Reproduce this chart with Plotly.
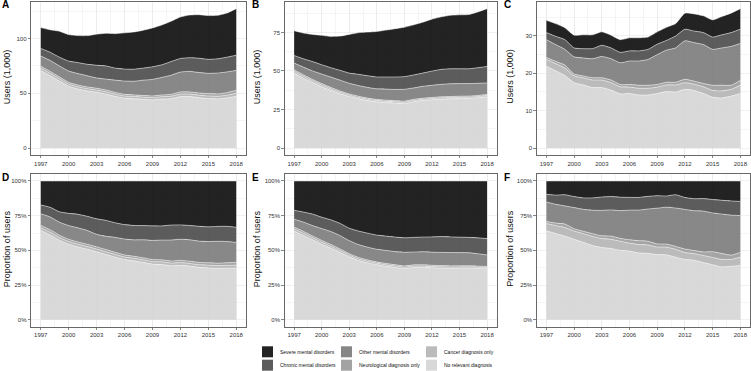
import plotly.graph_objects as go

years = list(range(1997, 2019))

categories = ["No relevant diagnosis", "Cancer diagnosis only", "Neurological diagnosis only",
              "Other mental disorders", "Chronic mental disorders", "Severe mental disorders"]

# Panel A (users, 1,000) - layers from bottom to top
a_norel = [70.8, 66.0, 61.2, 56.4, 53.9, 52.2, 51.0, 49.3, 47.2, 45.6, 45.0, 44.5, 44.0, 44.8, 45.1, 47.0, 47.0, 46.0, 45.2, 44.9, 45.8, 47.3]
a_cancer = [2.2, 2.2, 2.1, 2.0, 2.0, 2.0, 2.0, 2.0, 2.0, 2.0, 2.0, 2.0, 2.0, 2.1, 2.2, 2.3, 2.3, 2.3, 2.4, 2.4, 2.5, 2.8]
a_neuro = [1.8, 1.8, 1.7, 1.6, 1.6, 1.6, 1.6, 1.7, 1.6, 1.5, 1.5, 1.5, 1.6, 1.6, 1.7, 1.9, 1.9, 2.0, 2.1, 2.1, 2.3, 2.6]
a_other = [9.2, 10.0, 10.0, 10.3, 10.5, 10.2, 9.4, 10.0, 11.2, 12.1, 12.5, 14.0, 15.1, 16.0, 17.5, 18.2, 18.8, 18.7, 18.5, 19.1, 18.9, 18.2]
a_chronic = [7.0, 7.5, 8.0, 9.1, 10.0, 10.5, 11.6, 12.0, 11.0, 10.9, 11.0, 11.0, 11.5, 11.5, 12.5, 12.4, 12.5, 13.0, 12.8, 13.0, 13.5, 13.9]
a_severe = [19.0, 20.5, 23.7, 24.2, 24.7, 26.2, 28.4, 29.8, 31.5, 33.1, 34.0, 34.6, 35.5, 36.4, 36.8, 37.9, 39.0, 39.8, 40.0, 39.7, 40.3, 42.5]

# Panel B
b_norel = [48.6, 45.3, 42.5, 39.8, 37.4, 35.2, 33.4, 31.9, 30.8, 30.0, 29.5, 29.2, 28.9, 30.1, 30.8, 31.3, 31.7, 31.9, 32.1, 32.2, 32.6, 33.2]
b_cancer = [1.2, 1.2, 1.1, 1.1, 1.0, 1.0, 0.9, 0.9, 0.9, 0.8, 0.8, 0.8, 0.8, 0.8, 0.8, 0.8, 0.8, 0.8, 0.8, 0.8, 0.8, 0.8]
b_neuro = [1.0, 1.0, 0.9, 0.9, 0.9, 0.8, 0.8, 0.8, 0.7, 0.7, 0.7, 0.7, 0.7, 0.7, 0.7, 0.7, 0.7, 0.7, 0.7, 0.7, 0.7, 0.7]
b_other = [4.3, 5.0, 5.5, 6.2, 6.7, 7.0, 6.9, 6.9, 6.9, 6.9, 7.2, 7.3, 7.7, 7.4, 7.7, 7.9, 8.1, 8.3, 8.2, 8.1, 7.9, 7.5]
b_chronic = [4.9, 5.4, 6.1, 6.0, 6.1, 6.4, 6.6, 7.3, 7.6, 7.7, 7.9, 8.1, 8.2, 8.4, 8.6, 9.2, 9.7, 9.7, 9.6, 9.6, 10.1, 10.7]
b_severe = [16.1, 16.7, 17.6, 19.1, 20.3, 22.2, 25.1, 27.0, 28.3, 29.5, 30.4, 31.3, 32.1, 32.5, 33.0, 33.7, 34.1, 34.7, 35.0, 35.2, 36.2, 37.5]

# Panel C
c_norel = [21.9, 20.7, 19.4, 17.5, 16.9, 16.2, 16.2, 15.5, 14.5, 14.6, 14.2, 14.2, 14.6, 15.1, 15.0, 15.7, 15.4, 14.6, 13.6, 13.4, 13.9, 14.6]
c_cancer = [1.8, 1.9, 2.0, 1.8, 1.9, 2.0, 2.0, 2.0, 1.9, 1.7, 1.8, 1.8, 1.7, 1.8, 1.9, 1.8, 1.7, 1.8, 1.8, 1.9, 1.8, 2.2]
c_neuro = [0.5, 0.6, 0.8, 0.5, 0.5, 0.6, 0.6, 0.7, 0.6, 0.7, 0.8, 0.8, 0.7, 0.7, 0.7, 0.9, 0.8, 0.9, 1.4, 1.5, 1.1, 1.3]
c_other = [4.8, 4.5, 4.2, 4.6, 4.8, 5.1, 5.7, 5.7, 5.8, 6.3, 6.5, 6.9, 8.0, 8.6, 9.2, 10.3, 10.3, 10.4, 9.6, 10.0, 10.4, 9.9]
c_chronic = [1.9, 2.2, 2.6, 2.4, 2.5, 2.7, 3.0, 2.9, 2.8, 2.7, 2.7, 2.7, 2.8, 2.6, 3.2, 3.1, 3.1, 3.2, 3.3, 3.5, 3.7, 3.8]
c_severe = [3.3, 3.4, 3.2, 3.4, 3.7, 3.7, 3.6, 3.4, 3.4, 3.5, 3.5, 3.3, 3.3, 3.5, 3.3, 4.3, 4.6, 4.5, 4.6, 4.9, 5.2, 5.5]

panel_data = {
    "A": [a_norel, a_cancer, a_neuro, a_other, a_chronic, a_severe],
    "B": [b_norel, b_cancer, b_neuro, b_other, b_chronic, b_severe],
    "C": [c_norel, c_cancer, c_neuro, c_other, c_chronic, c_severe],
}

x_ticks = [1997, 2000, 2003, 2006, 2009, 2012, 2015, 2018]

# colours: fill with slight transparency so grid shows through
fill_rgba = ["rgba(213,213,213,0.9)", "rgba(180,180,180,0.9)", "rgba(155,155,155,0.9)",
             "rgba(123,123,123,0.9)", "rgba(74,74,74,0.9)", "rgba(11,11,11,0.9)"]
legend_cols = ["#d8d8d8", "#bbbbbb", "#a3a3a3", "#868686", "#5c5c5c", "#232323"]

W, H = 751, 371
def px(x): return x / W
def py(y): return (H - y) / H

col_dom = [(31, 246), (284.5, 496.7), (536.7, 750)]
row_dom = [(1.7, 155), (174, 326.7)]

fig = go.Figure()
panels = [("A", 0, 0, "A"), ("B", 0, 1, "B"), ("C", 0, 2, "C"),
          ("D", 1, 0, "A"), ("E", 1, 1, "B"), ("F", 1, 2, "C")]

FONT = "Liberation Sans, Arial, sans-serif"
axis_font = dict(family=FONT, size=6, color="#333333")
grid_col = "#e6e6e6"

annotations = []
for idx, (label, r, c, src) in enumerate(panels):
    n = idx + 1
    xa = "x" if n == 1 else f"x{n}"
    ya = "y" if n == 1 else f"y{n}"
    layers = panel_data[src]
    for k, vals in enumerate(layers):
        tr = dict(x=years, y=vals, mode="lines", stackgroup=f"g{n}",
                  line=dict(color="white", width=0.5, shape="spline", smoothing=0.5),
                  fillcolor=fill_rgba[k], showlegend=False, hoverinfo="skip",
                  name=categories[k], xaxis=xa, yaxis=ya)
        if r == 1 and k == 0:
            tr["groupnorm"] = "fraction"
        fig.add_trace(go.Scatter(**tr))

    xd = col_dom[c]; yd = row_dom[r]
    xkey = "xaxis" if n == 1 else f"xaxis{n}"
    ykey = "yaxis" if n == 1 else f"yaxis{n}"
    common = dict(showline=True, mirror=True, linecolor="#444444", linewidth=0.8,
                  ticks="outside", ticklen=2.5, tickwidth=0.6, tickcolor="#333333",
                  showgrid=True, gridcolor=grid_col, gridwidth=0.6, zeroline=False,
                  tickfont=axis_font, fixedrange=True, automargin=False)
    fig.layout[xkey] = dict(domain=[px(xd[0]), px(xd[1])], anchor=ya,
                            range=[1995.95, 2019.05], tickmode="array", tickvals=x_ticks,
                            minor=dict(tickmode="linear", tick0=1997, dtick=1.5, showgrid=True,
                                       gridcolor=grid_col, gridwidth=0.4, ticks=""),
                            **common)
    if r == 0:
        tot = [sum(v) for v in zip(*layers)]
        mx = max(tot)
        dt = {"A": 50, "B": 25, "C": 10}[src]
        yrange = [-0.05 * mx, 1.05 * mx]
        yextra = dict(tick0=0, dtick=dt, tickformat="d",
                      minor=dict(tick0=0, dtick=dt / 2, showgrid=True, gridcolor=grid_col,
                                 gridwidth=0.4, ticks=""))
        title = "Users (1,000)"
    else:
        yrange = [-0.05, 1.05]
        yextra = dict(tick0=0, dtick=0.25, tickformat=".0%",
                      minor=dict(tick0=0, dtick=0.125, showgrid=True, gridcolor=grid_col,
                                 gridwidth=0.4, ticks=""))
        title = "Proportion of users"
    fig.layout[ykey] = dict(domain=[py(yd[1]), py(yd[0])], anchor=xa, range=yrange,
                            **yextra, **common)

    # y axis title
    tx = [7.3, 257.3, 510][c]
    annotations.append(dict(text=title, x=px(tx), y=py((yd[0] + yd[1]) / 2 - 1.5),
                            xref="paper", yref="paper", textangle=-90, showarrow=False,
                            xanchor="center", yanchor="middle",
                            font=dict(family=FONT, size=9, color="#111111")))
    # panel letter
    lx = [0, 250, 502][c]
    ly = [4.5, 177.5][r]
    annotations.append(dict(text=f"<b>{label}</b>", x=px(lx), y=py(ly), xref="paper", yref="paper",
                            showarrow=False, xanchor="left", yanchor="middle",
                            font=dict(family=FONT, size=10, color="#000000")))

# legend (drawn manually, ggplot-like 3 columns x 2 rows)
legend_layout = [("Severe mental disorders", 5, 262, 0), ("Chronic mental disorders", 4, 262, 1),
                 ("Other mental disorders", 3, 341, 0), ("Neurological diagnosis only", 2, 341, 1),
                 ("Cancer diagnosis only", 1, 426, 0), ("No relevant diagnosis", 0, 426, 1)]
shapes = []
for text, k, lx, row in legend_layout:
    top = 346.3 + row * 13.4
    shapes.append(dict(type="rect", xref="paper", yref="paper", x0=px(lx), x1=px(lx + 11),
                       y0=py(top + 11), y1=py(top), fillcolor=legend_cols[k], line=dict(width=0)))
    annotations.append(dict(text=text, x=px(lx + 16), y=py(top + 5.5), xref="paper", yref="paper",
                            showarrow=False, xanchor="left", yanchor="middle",
                            font=dict(family=FONT, size=5, color="#111111")))

fig.update_layout(width=W, height=H, margin=dict(l=0, r=0, t=0, b=0, autoexpand=False),
                  paper_bgcolor="white", plot_bgcolor="white", showlegend=False,
                  annotations=annotations, shapes=shapes)

fig.write_html("out.html", config={"displayModeBar": False, "staticPlot": True},
               post_script="document.body.style.margin='0';document.body.style.padding='0';document.body.style.overflow='hidden';")
